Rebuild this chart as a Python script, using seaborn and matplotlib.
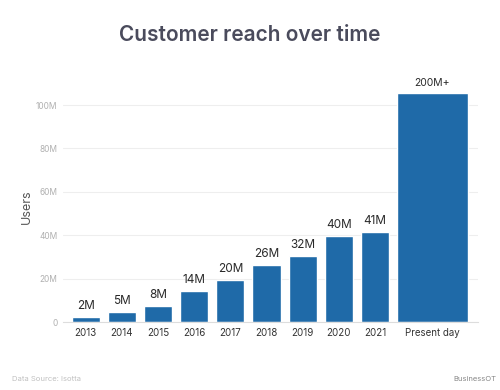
import seaborn as sns
import pandas as pd
import numpy as np
import matplotlib.pyplot as plt

periods = ['2013', '2014', '2015', '2016', '2017', '2018', '2019', '2020', '2021', 'Present day']
users_m = [2.3, 4.7, 7.6, 14.3, 19.4, 26.4, 30.6, 39.8, 41.5, 105.7]
bar_labels = ['2M', '5M', '8M', '14M', '20M', '26M', '32M', '40M', '41M', '200M+']
y_ticks = [0, 20, 40, 60, 80, 100]
y_tick_labels = ['0', '20M', '40M', '60M', '80M', '100M']

if __name__ == '__main__':
    sns.set_theme(style='white')
    plt.rcParams['font.family'] = ['Inter', 'DejaVu Sans']

    df = pd.DataFrame({'period': periods, 'users': users_m})

    fig = plt.figure(figsize=(5, 3.9), dpi=100)
    ax = fig.add_axes([0.126, 0.174, 0.83, 0.59])

    sns.barplot(data=df, x='period', y='users', color='#1f6aa8', saturation=1,
                width=0.78, ax=ax)

    # last bar is wider and shifted right
    last = ax.patches[-1]
    cx = last.get_x() + last.get_width() / 2 + 0.58
    last.set_width(1.96)
    last.set_x(cx - 0.98)
    ticks = list(range(len(periods) - 1)) + [cx]
    ax.set_xticks(ticks)
    ax.set_xticklabels(periods, fontsize=7, color='#333333')

    for p, lab in zip(ax.patches, bar_labels):
        fs = 7.5 if lab == '200M+' else 8.5
        ax.text(p.get_x() + p.get_width() / 2, p.get_height() + 2.2, lab,
                ha='center', va='bottom', fontsize=fs, color='#2a2a2a',
                clip_on=False)

    ax.set_xlim(-0.63, 10.85)
    ax.set_ylim(0, 106)
    ax.set_yticks(y_ticks)
    ax.set_yticklabels(y_tick_labels, fontsize=6, color='#b0b0b0')
    ax.yaxis.grid(True, color='#eeeeee', linewidth=0.8)
    ax.set_axisbelow(True)
    for s in ['top', 'right', 'left']:
        ax.spines[s].set_visible(False)
    ax.spines['bottom'].set_color('#dddddd')
    ax.spines['bottom'].set_linewidth(0.8)
    ax.tick_params(axis='both', length=0, pad=4)

    ax.set_xlabel('')
    ax.set_ylabel('Users', fontsize=9, color='#555555', labelpad=2)

    fig.text(0.5, 0.91, 'Customer reach over time', ha='center', va='center',
             fontsize=15, fontweight='semibold', color='#4a4b5c')
    fig.text(0.024, 0.028, 'Data Source: Isotta', ha='left', va='center',
             fontsize=5.5, color='#c0c0c0')
    fig.text(0.992, 0.028, 'BusinessOT', ha='right', va='center',
             fontsize=5.5, color='#888888')

    fig.savefig('out.png', dpi=100, facecolor='white')
